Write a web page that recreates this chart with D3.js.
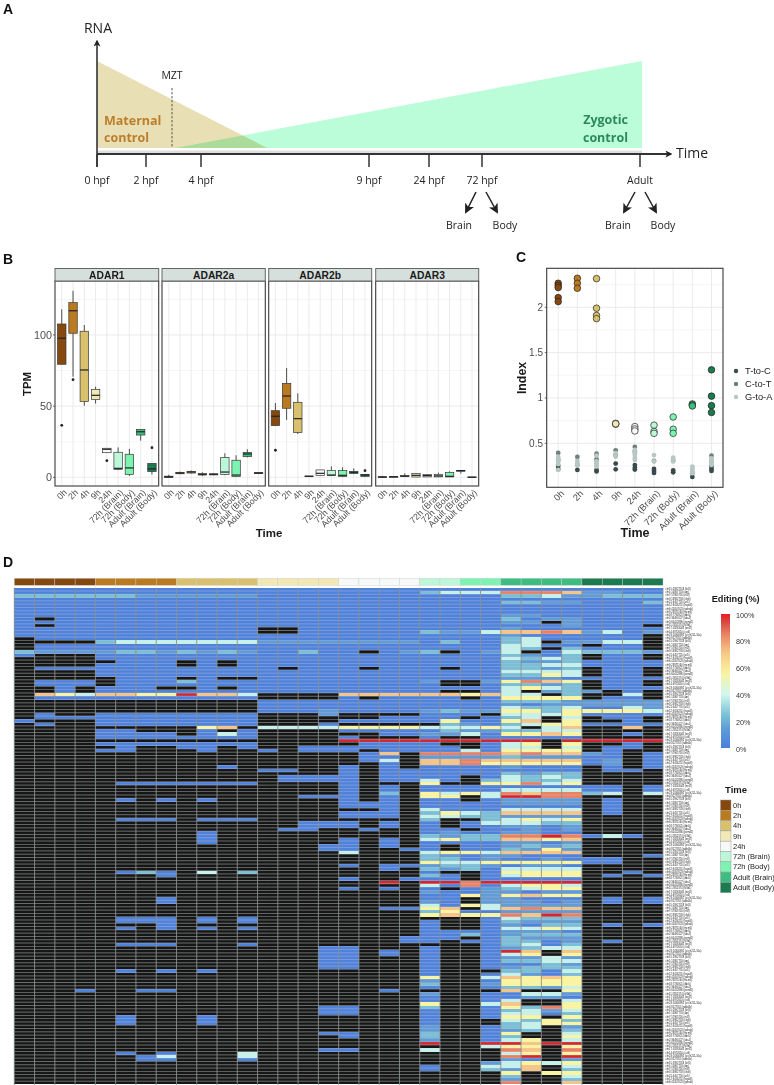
<!DOCTYPE html>
<html><head><meta charset="utf-8">
<script src="https://cdn.jsdelivr.net/npm/d3@7"></script>
<style>html,body{margin:0;padding:0;background:#fff;overflow:hidden}svg{display:block}text{font-family:"Liberation Sans",Arial,sans-serif}</style>
</head><body><svg id="c" width="774" height="1085"></svg>
<script>
// ---------- Panel A data (schematic units) ----------
const stageLabels=["0 hpf","2 hpf","4 hpf","9 hpf","24 hpf","72 hpf","Adult"];
const stagePos=[0,49,104,272,332,385,543];
const maternalCurve=[[0,1],[0,0],[170,0]];
const zygoticCurve=[[78,0],[545,1],[545,0]];
const mztPos=75;
// ---------- Panel B data ----------
const timeLabels=["0h","2h","4h","9h","24h","72h (Brain)","72h (Body)","Adult (Brain)","Adult (Body)"];
const timeColors=["#85490f","#b97a20","#d8c06c","#f2e8b6","#f7f8f8","#bdf7d9","#7df3b2","#3dbd80","#1b7a50"];
const genes=["ADAR1","ADAR2a","ADAR2b","ADAR3"];
// [low, q1, median, q3, high, outliers]
const adar1=[[79.4,79.4,97.7,107.7,118,[36.5]],[70.7,101.2,117,122.7,131,[68.6]],[50.3,53.2,75.4,102.6,107,[]],[51.8,54.6,57.6,61.8,63.7,[]],[17.3,17.3,19.7,20.4,20.4,[11.7]],[5,5.6,6.3,17.6,21,[]],[1,2.1,6.6,16.2,20,[]],[25.8,29.7,32,33.7,33.7,[]],[2,4,5.9,9.8,9.8,[20.8]]];
const adar2a=[[0,0,.3,.8,1.8,[]],[2.2,2.5,3,3.5,4,[]],[2.6,3,3.7,4.2,4.8,[]],[1,1.6,2.1,2.6,3.5,[]],[1.5,1.7,2.1,2.5,2.8,[]],[1.5,1.9,3.7,14,16.9,[]],[.2,.5,1.6,12,15.5,[]],[14,14.5,16.4,17.5,19.7,[]],[2.7,2.7,3,3.3,3.3,[]]];
const adar2b=[[36.3,36.3,42.9,46.8,52.2,[19]],[40.3,48.5,57.1,66,76.8,[]],[30.4,31.4,41.2,52.7,59,[]],[.5,.5,.7,.9,.9,[]],[1,1.4,2.8,5.2,5.2,[]],[1.2,1.2,1.6,4.9,7.7,[]],[.3,.5,1.4,4.7,7,[]],[2.2,2.6,3.5,4.2,6.3,[]],[.5,.7,1.6,2.1,2.1,[4.7]]];
const adar3=[[-.3,0,.2,.4,1,[]],[.1,.1,.3,.5,.5,[]],[.3,.5,.8,1.2,2.8,[]],[.2,.2,1.4,2.8,2.8,[]],[.3,.3,1.2,1.9,1.9,[]],[.2,.3,1,2.1,3.3,[]],[.2,.3,.7,3.5,4.2,[]],[2.6,4.3,4.7,4.9,5,[]],[0,0,.1,.2,.2,[]]];
const tpmTicks=[0,50,100];
// ---------- Panel C data ----------
const mutIndex=[[2.265,2.24,2.217,2.107,2.0625],[2.32,2.265,2.21],[2.316,1.99,1.91,1.875],[.72,.71,.715],[.684,.658,.636],[.70,.63,.61],[.79,.655,.61],[.934,.923,.912],[1.31,1.02,.915,.84]];
const tToC=[[.25,.217],[.206],[.206,.19],[.276,.213],[.26,.23,.21],[.217,.195,.173],[.2,.18],[.129],[.243,.217,.195]];
const cToT=[[.393,.316],[.35,.26],[.386,.324],[.423,.37],[.46,.41],[.305],[.31],[.17],[.364,.3]];
const gToA=[[.353,.33,.298,.27,.206],[.305,.28,.26],[.364,.3,.28,.26,.243],[.39,.353],[.426,.39,.37,.34,.316],[.37,.3],[.342,.316,.3],[.243,.225,.206,.19,.17],[.334,.31,.3,.28,.26]];
const indexTicks=[.5,1,1.5,2];
const mutNames=["T-to-C","C-to-T","G-to-A"];
const mutColors=["#3a4a4a","#6f7f7d","#b7c7c3"];
// ---------- Panel D data: one letter per cell, "." is no data ----------
const levelValues={a:2,b:14,c:24,d:38,e:56,f:72,g:85,h:99};
const columnGroups=[0,0,0,0,1,1,1,1,2,2,2,2,3,3,3,3,4,4,4,4,5,5,6,6,7,7,7,7,8,8,8,8];
const editingRows=[
"aaaa aaaa aaaa aaaa aaaa aaaa aaaa aaaa","aaaa aaaa aaaa aaaa aaaa cddd gggf bbaa","cccc ccbb bbbb aaaa aaaa aaaa ccdb bccc","aaaa aaaa aaaa aaaa aaaa aaaa aaaa aaaa",
"aaaa aaaa aaaa aaaa aaaa aaaa ccbb aaac","aaaa aaaa aaaa aaaa aaaa aaaa aaaa aaaa","aaaa aaaa aaaa aaaa aaaa aaaa aaaa aaaa","aaaa aaaa aaaa aaaa aaaa aaaa aaaa aaaa",
"aaaa aaaa aaaa aaaa aaaa aaaa bbaa aaaa","a.aa aaaa aaaa aaaa aaaa aaaa cabb aaaa","aaaa aaaa aaaa aaaa aaaa aaaa bb.b aaaa","a.aa aaaa aaaa aaaa aaaa aaaa aaab aaa.",
"aaaa aaaa aaaa ..aa aaaa aaaa baaa aaaa","aaaa aaaa aaaa ..aa aaaa cbbd ffgf bdab","aaaa aaaa aaaa aaaa aaaa aaaa baaa aaa.",".aaa aaaa aaaa aaaa aaaa aaaa cdaa aaa.",
".... cddd dddd bbbb bbbb acaa cd.b bdd.",".aaa aaaa aaaa aaaa aaaa aaaa ddaa .aa.",".aaa aaaa aaaa aaaa aaaa aaaa dc.c aaa.","cbbb bccb cbcb aaca a.ab c.ab d.ad cccb",
"a... aaaa aaaa aaaa aaaa aaaa cbac .aa.",".... aaaa aaaa aaaa aaaa aaaa dcdc .aa.",".... .aaa .a.a aaaa aaaa aaaa cbbc aaaa",".... aaaa .a.a aaaa aaaa aaaa ccdd aaaa",
".aaa aaaa aaaa a.aa a.aa a.aa ccbc .aa.",".... aaaa aaaa aaaa aaaa aaaa dddd .aa.",".... aaaa aaaa aaaa aaaa aaaa cced .aa.",".... .aaa .a.. aaaa aaaa aaaa bbba aaaa",
".aaa .aaa caaa aaaa aaaa b..b egfe .aa.",".aaa .aaa aaaa aaaa aaaa a..a ccbc .aa.","..a. aaa. .a.a aaaa aaaa aaaa dedc .aaa","..a. aaaa aaaa aaaa aaaa a..a d.bc b.a.",
".fed ffee hffd .... ffff ffef dd.c ..d.",".aaa aaaa aaaa .... a.aa aa.a eeee .aa.",".... .... .... aaaa aaaa aaaa cccb bbbb",".... .... .... aaaa aaaa aaaa babb bbbb",
".... .... .... aaaa aaaa aaaa dccd aadb",".... .... .... aaab aaaa bcbb eece eeed",".a.. aaaa aaaa ...b .... aaa. ddde aaaa",".aaa aaaa aaaa .... ..aa aa.a cd.d .aa.",
"a... aaaa aaaa .... aaaa aeaa ef.e ..a.",".a.. aaaa aaaa ...a .... .cba cdee aaaa",".... .... .ef. dddd eeee ddde d.df ..f.",".... aa.. .a.a .... aaaa acbb ccdd ....",
".... aaaa .ada .... ..aa bbda eefe ..a.",".... aaaa aaaa .... a... a..a aaaa ....",".... .... .... .... hhhh hhhh hh.h hhhh",".... aaaa aaaa .... .aaa a..a de.e ..a.",
".... .a.. aa.a ..aa aaaa aa.a dd.d .aa.",".... aa.. .a.. a.aa a.aa aada eeee .a..",".... .... .... .... .af. gggg fgff ba.a",".... .... .... .... .aa. bbbb cbbb aa.a",
".... .... .... .... .ad. ffgf ffff ab.a",".... .... .... .... ..a. ffge eeee ab.a",".... .... ..a. .... a.a. aaaa baaa .a.a",".... .... .... aa.. a.aa aaaa aaaa .aa.",
".... .... .... .... a.aa aaaa cbcc ....",".... .... .... .aaa a.aa aa.a dcdc ....",".... .... .... .aaa a.aa da.c dccd ....",".... .aaa aaaa .... a... e..e egde ....",
".... .... .... .... a.a. aaaa aaaa aa.a",".... .... .... .... a.a. aaaa dddd aa.a",".... .... .... .... a.c. eded gfgg cd.d",".... .... .... ..aa a.a. ee.d hhgg ....",
".... .a.a .a.. .... a.a. aa.a bbbb .a..",".... .... .... .... aaa. aaaa bbbb .a..",".... .... .... .... aaa. aaaa aaaa .a..",".... .... .... .... ..a. daaa dddd .a..",
".... .... .... .... aaa. cedc ffff .a..",".... .... .... .... aaa. ddcc bbbb ....",".... .aaa .aaa .... .... c..c dede ....",".... .... .... ..aa a.a. a.ad ddcc ....",
".... .... .... ..aa a.a. a.aa bbab ....",".... .... .... .aa. .a.. aa.a abab ....",".... .... .a.. .... .... abaa bbaa ....",".... .... .a.. .... .... cbcc gghg ada.",
".... .... .a.. .... a.a. decc ffef ....",".... .... .a.. .... a.a. aaaa bbab ....",".... .... .... ...a a.a. a.aa bcbc ....",".... .... .... ...a a..a a.aa cbeb ....",
".... .... .... .... d... deed ffff ....",".... .... .... .... .... cbab baaa ...a",".... .... .... .... .... ccab aaba aa..",".... .... .... .... .... edde eeee aa..",
".... .... .... .... a.aa bccb abba ....",".... .... .... .... ..a. cbca dddd ....",".... .aca .d.c .... .... a..a eeee ..a.",".... ...a .... .... .... ca.a deee .a.a",
".... .... .... .... a..a aa.a aaaa ....",".... .... .... .... ..h. hhgh hhhh ....",".... .... .... .... .... daga deed ....",".... .... .... .... a.a. a.ab cdee ....",
".... .... .... .... .... baab babb ....",".... .... .... .... .... aaeb efee ....",".... ...a .... .... .... aa.b baaa .a.a",".... ...a .... .... .... ba.b bbab .a.a",
".... .... .... .... .... daed bbbb ....",".... .... .... .... ..aa ef.d fgff ....",".... .... .... .... .... ceaa bbbb ....",".... .... .... .... .... efee gfhg ....",
".... .aaa .a.a .... .... ...a dccc ....",".... .aaa .a.a .... .... a..a cbbb ....",".... ...a .... .... .... a..a bacc .a.a",".... .a.a .a.a .... .... a..a dded ....",
".... .... .... .... .... aaaa bbba ....",".... .... .... .... .... aaca bccc ....",".... .... .... .... ...a aa.a cbbb ....",".... .... .... .... ...a a.aa ccab .a..",
".... .aaa ...a .... .... ...a cdac ....",".... .... .... ...a a... a..a bcdd ....",".... .... .... ...a a.a. a..a hf.f ....",".... .... .... ...a a.a. a..a de.e ....",
".... .... .... ...a a... a..a bbdb ....",".... .... .... ...a a... a..a ccdd ....",".... .... .... ...a a... a..a aacb ....",".... .... .... ...a a... a..a bccc ....",
".... .a.a .a.. .... .... a... ccad ....",".... .... .... .... .... a..a dbac ....",".... .... .... .... .... e..d fefe ....",".... .... .... .... .... b..a eeee ....",
".... .... .... .... .... c..b eeee ....",".... .... .... .... .... a..a ccbd ....","...a ..aa .... .... ..a. .... f..e ....",".... .... .... .... .... b..a addb ....",
".... .... .... .... .... a..a abba ....",".... .... .... .... .... a..a d..d ....",".... .... .... .... .... e..d f..e ....",".... .... .... ...a a... c..a ecge ....",
".... .... .... ...a a... a..a cdbd ....",".... .... .... ...a a... a..a ddac ....",".... .a.. .a.. .... .... a..a ee.e ....",".... .a.. .a.. .... .... a... dcec ....",
".... .a.. .a.. .... .... a... cdee ....",".... .... .... .... .... b..a cd.b ....",".... .... .... .... .... b..a bc.c ....",".... .... .... ...a a... c..a e..d ....",
".... .... .... .... a... c..a c..e ....",".... .... .... .... .... b..a de.d ....",".... .... .... .... .... h..h hfhh ....",".... .... .... .... .... ...d ee.e ....",
".... .... .... ...a a... d... gf.g ....",".... .a.a ...d .... .... .... de.e ....",".... ..ad ...d .... .... .... gh.h ....",".... ..aa ...a .... .... .... ba.b ....",
".... .... .... .... .... ...b dede ....",".... .... .... .... .... a..d df.d ....",".... .... .... .... .... a..c bf.c ....",".... .... .... .... .... .... e.ee ....",
".... .... .... .... .... .... c..d ....",".... .... .... .... .... .... b..c ....",".... .... .... .... .... .... g..f ...."
];
// Illegible in the reference: placeholder strings in the same visual format.
const siteLabels=["chr15:29927518 (kif1)","chr1:15867753 (aqr)","chr7:57965716 (rnf2)","chr3:13982733 (cltcb)","chr21:4457755 (arl1)","chr12:9416251 (hspa8)","chr6:41057623 (ywhab)","chr9:23871160 (mcm5)","chr18:7734921 (ddx5)","chr2:36490127 (uba1)","chr5:60412886 (psmd1)","chr11:2851374 (sf3b1)","chr17:18263045 (eef2)","chr14:4972610 (cct4)","chr23:10346892 (si:ch211-16a)","chr4:8127355 (tubb4b)"];
const editingStops=[0,15,25,40,56,72,85,100];
const editingColors=["#4a7fdc","#5f9fd6","#7cc3d6","#d2f7ee","#f8f4a2","#f5c585","#e88262","#d0202c"];
const editingTicks=[0,20,40,60,80,100];

// ---------- Drawing ----------
const svg=d3.select("#c");
const font='"Liberation Sans",Arial,sans-serif', serif='"Open Sans",sans-serif';
function label(x,y,t,o={}){return svg.append("text").attr("x",x).attr("y",y).text(t)
 .attr("font-size",o.size||10).attr("font-weight",o.bold?"bold":"normal").attr("fill",o.fill||"#1a1a1a")
 .attr("text-anchor",o.anchor||"start").attr("dominant-baseline","central").style("font-family",o.font||font)
 .attr("transform",o.rotate?`rotate(${o.rotate} ${x} ${y})`:null);}
[["A",3,9],["B",3,259],["C",516,257],["D",3,562]].forEach(d=>label(d[1],d[2],d[0],{size:14,bold:true,fill:"#111"}));

// Panel A
const ax=d3.scaleLinear().domain([0,543]).range([97,640]);
const ay=d3.scaleLinear().domain([0,1]).range([148,61]);
const area=d3.line().x(d=>ax(d[0])).y(d=>ay(d[1]));
const pA=svg.append("g");
pA.append("path").attr("d",area(zygoticCurve)+"Z").attr("fill","#bbfcd9");
pA.append("path").attr("d",area(maternalCurve)+"Z").attr("fill","#e9dfb5").style("mix-blend-mode","multiply");
pA.append("rect").attr("x",ax(0)).attr("y",150.5).attr("width",545).attr("height",2.5).attr("fill","#dedede");
const defs=svg.append("defs");
defs.append("marker").attr("id","ah").attr("viewBox","0 0 10 10").attr("refX",8).attr("refY",5).attr("markerWidth",7).attr("markerHeight",7).attr("markerUnits","userSpaceOnUse").attr("orient","auto")
 .append("path").attr("d","M0,0L10,5L0,10L2.5,5Z").attr("fill","#222");
defs.append("marker").attr("id","ah2").attr("viewBox","0 0 10 10").attr("refX",8).attr("refY",5).attr("markerWidth",10).attr("markerHeight",10).attr("markerUnits","userSpaceOnUse").attr("orient","auto")
 .append("path").attr("d","M0,0L10,5L0,10L2.5,5Z").attr("fill","#222");
pA.append("line").attr("x1",ax(0)).attr("x2",ax(0)).attr("y1",167).attr("y2",41).attr("stroke","#333").attr("stroke-width",1.6).attr("marker-end","url(#ah)");
pA.append("line").attr("x1",ax(0)).attr("x2",671).attr("y1",154).attr("y2",154).attr("stroke","#333").attr("stroke-width",2).attr("marker-end","url(#ah)");
pA.selectAll(".t").data(stagePos).enter().append("line").attr("x1",d=>ax(d)).attr("x2",d=>ax(d)).attr("y1",154).attr("y2",167).attr("stroke","#333").attr("stroke-width",1.5);
pA.append("line").attr("x1",ax(mztPos)).attr("x2",ax(mztPos)).attr("y1",88).attr("y2",148).attr("stroke","#333").attr("stroke-width",.8).attr("stroke-dasharray","2.4 1.6");
stageLabels.forEach((t,i)=>label(ax(stagePos[i]),180,t,{size:10.5,anchor:"middle",font:serif,fill:"#222"}));
label(98,27,"RNA",{size:14,anchor:"middle",font:serif,fill:"#222"});
label(692,152,"Time",{size:14,anchor:"middle",font:serif,fill:"#222"});
label(172,75,"MZT",{size:10.5,anchor:"middle",font:serif,fill:"#222"});
label(104,120,"Maternal",{size:12.5,bold:true,font:serif,fill:"#bd7e2a"});
label(104,137,"control",{size:12.5,bold:true,font:serif,fill:"#bd7e2a"});
label(628,119,"Zygotic",{size:12.5,bold:true,anchor:"end",font:serif,fill:"#2b8a5c"});
label(628,137,"control",{size:12.5,bold:true,anchor:"end",font:serif,fill:"#2b8a5c"});
[[476,466],[486,497],[635,624],[645,656]].forEach(d=>pA.append("line").attr("x1",d[0]).attr("x2",d[1]).attr("y1",192).attr("y2",212).attr("stroke","#222").attr("stroke-width",1.5).attr("marker-end","url(#ah2)"));
[["Brain",459],["Body",505],["Brain",618],["Body",663]].forEach(d=>label(d[1],225,d[0],{size:10.5,anchor:"middle",font:serif,fill:"#222"}));

// Panel B
const by=d3.scaleLinear().domain([-6.1,137.9]).range([486,281]);
const geneData=[adar1,adar2a,adar2b,adar3];
const panelX=[[55,158.7],[162,265.3],[268.7,371.7],[375.7,478.7]];
const halfTicks=[-25,25,75,125];
genes.forEach((g,gi)=>{
 const [x0,x1]=panelX[gi];
 const bx=d3.scalePoint().domain(timeLabels).range([x0,x1]).padding(.6);
 const p=svg.append("g");
 halfTicks.filter(v=>v>-6).forEach(v=>p.append("line").attr("x1",x0).attr("x2",x1).attr("y1",by(v)).attr("y2",by(v)).attr("stroke","#f0f0f0").attr("stroke-width",.6));
 tpmTicks.forEach(v=>p.append("line").attr("x1",x0).attr("x2",x1).attr("y1",by(v)).attr("y2",by(v)).attr("stroke","#e6e6e6").attr("stroke-width",.8));
 timeLabels.forEach(t=>p.append("line").attr("x1",bx(t)).attr("x2",bx(t)).attr("y1",281).attr("y2",486).attr("stroke","#e6e6e6").attr("stroke-width",.8));
 const bw=bx.step()*.75;
 geneData[gi].forEach((d,i)=>{
  const cx=bx(timeLabels[i]);
  p.append("line").attr("x1",cx).attr("x2",cx).attr("y1",by(d[0])).attr("y2",by(d[4])).attr("stroke","#3a3a3a").attr("stroke-width",.9);
  p.append("rect").attr("x",cx-bw/2).attr("width",bw).attr("y",by(d[3])).attr("height",Math.max(.4,by(d[1])-by(d[3]))).attr("fill",timeColors[i]).attr("stroke","#3a3a3a").attr("stroke-width",.7);
  p.append("line").attr("x1",cx-bw/2).attr("x2",cx+bw/2).attr("y1",by(d[2])).attr("y2",by(d[2])).attr("stroke","#222").attr("stroke-width",1.2);
  d[5].forEach(o=>p.append("circle").attr("cx",cx).attr("cy",by(o)).attr("r",1.4).attr("fill","#222"));
 });
 p.append("rect").attr("x",x0).attr("y",281).attr("width",x1-x0).attr("height",205).attr("fill","none").attr("stroke","#3a3a3a").attr("stroke-width",1.1);
 p.append("rect").attr("x",x0).attr("y",268.5).attr("width",x1-x0).attr("height",12.5).attr("fill","#d5e0dc").attr("stroke","#666").attr("stroke-width",1);
 label((x0+x1)/2,275,g,{size:10.3,bold:true,anchor:"middle"});
 timeLabels.forEach(t=>label(bx(t)+3.5,491,t,{size:8.8,anchor:"end",rotate:-45,fill:"#4d4d4d"}));
});
tpmTicks.forEach(v=>{label(52,by(v),v,{size:10.8,anchor:"end",fill:"#4d4d4d"});
 svg.append("line").attr("x1",53).attr("x2",55).attr("y1",by(v)).attr("y2",by(v)).attr("stroke","#333").attr("stroke-width",.7);});
label(27,384,"TPM",{size:11.3,bold:true,anchor:"middle",rotate:-90});
label(269,533,"Time",{size:11.5,bold:true,anchor:"middle"});

// Panel C
const cx0=546.7,cx1=723,cy0=487.3,cy1=268.3;
const cX=d3.scalePoint().domain(timeLabels).range([cx0,cx1]).padding(.6);
const cY=d3.scaleLinear().domain([.0147,2.43]).range([cy0,cy1]);
const pC=svg.append("g");
[.25,.75,1.25,1.75,2.25].forEach(v=>pC.append("line").attr("x1",cx0).attr("x2",cx1).attr("y1",cY(v)).attr("y2",cY(v)).attr("stroke","#f0f0f0").attr("stroke-width",.6));
indexTicks.forEach(v=>{pC.append("line").attr("x1",cx0).attr("x2",cx1).attr("y1",cY(v)).attr("y2",cY(v)).attr("stroke","#e6e6e6").attr("stroke-width",.8);
 label(543,cY(v),v,{size:10,anchor:"end",fill:"#4d4d4d"});
 svg.append("line").attr("x1",544.7).attr("x2",546.7).attr("y1",cY(v)).attr("y2",cY(v)).attr("stroke","#333").attr("stroke-width",.7);});
timeLabels.forEach(t=>pC.append("line").attr("x1",cX(t)).attr("x2",cX(t)).attr("y1",cy1).attr("y2",cy0).attr("stroke","#e6e6e6").attr("stroke-width",.8));
[[tToC,0],[cToT,1],[gToA,2]].forEach(([arr,k])=>arr.forEach((vals,i)=>vals.forEach(v=>
 pC.append("circle").attr("cx",cX(timeLabels[i])).attr("cy",cY(v)).attr("r",2.4).attr("fill",mutColors[k]))));
mutIndex.forEach((vals,i)=>vals.forEach(v=>pC.append("circle").attr("cx",cX(timeLabels[i])).attr("cy",cY(v)).attr("r",3.3).attr("fill",timeColors[i]).attr("stroke","#222").attr("stroke-width",.7)));
pC.append("rect").attr("x",cx0).attr("y",cy1).attr("width",cx1-cx0).attr("height",cy0-cy1).attr("fill","none").attr("stroke","#3a3a3a").attr("stroke-width",1.1);
timeLabels.forEach(t=>label(cX(t)+4.5,492,t,{size:9.3,anchor:"end",rotate:-45,fill:"#4d4d4d"}));
mutNames.forEach((n,i)=>{pC.append("circle").attr("cx",736).attr("cy",371+13*i).attr("r",2.2).attr("fill",mutColors[i]);label(745,371+13*i,n,{size:9.3});});
label(522,378,"Index",{size:12.3,bold:true,anchor:"middle",rotate:-90});
label(635,533,"Time",{size:12.5,bold:true,anchor:"middle"});

// Panel D
const colIdx=d3.range(32), rowIdx=d3.range(editingRows.length);
const hx=d3.scaleBand().domain(colIdx).range([14.3,663]);
const hy=d3.scaleBand().domain(rowIdx).range([587.7,587.7+3.29*editingRows.length]);
const heatColor=d3.scaleLinear().domain(editingStops).range(editingColors);
const cells=[];
editingRows.forEach((r,ri)=>{r.replace(/ /g,"").padEnd(32,".").split("").forEach((c,ci)=>cells.push({ri,ci,v:levelValues[c]}));});
const pD=svg.append("g");
pD.selectAll("rect.a").data(colIdx).enter().append("rect").attr("x",d=>hx(d)).attr("y",578.3).attr("width",hx.bandwidth()).attr("height",7)
 .attr("fill",d=>timeColors[columnGroups[d]]).attr("stroke","#c8c8c8").attr("stroke-width",.4);
pD.selectAll("rect.c").data(cells).enter().append("rect").attr("x",d=>hx(d.ci)).attr("y",d=>hy(d.ri)).attr("width",hx.bandwidth()).attr("height",hy.bandwidth())
 .attr("fill",d=>d.v===undefined?"#161616":heatColor(d.v)).attr("shape-rendering","crispEdges");
const lines=pD.append("g");
rowIdx.forEach(r=>lines.append("line").attr("x1",14.3).attr("x2",663).attr("y1",hy(r)).attr("y2",hy(r)).attr("stroke","#a4aaaa").attr("stroke-width",.6).style("mix-blend-mode","lighten"));
colIdx.concat([32]).forEach(c=>{const x=c<32?hx(c):663;lines.append("line").attr("x1",x).attr("x2",x).attr("y1",587.7).attr("y2",1085).attr("stroke","#8a9090").attr("stroke-width",.9);});
rowIdx.forEach(r=>label(665.5,hy(r)+1.65,siteLabels[r%siteLabels.length],{size:2.6,fill:"#222"}));

// Legends
const grad=defs.append("linearGradient").attr("id","edit").attr("x1",0).attr("x2",0).attr("y1",1).attr("y2",0);
d3.range(0,101,5).forEach(v=>grad.append("stop").attr("offset",v+"%").attr("stop-color",v>=98?"#f01a20":heatColor(v)));
const lg=d3.scaleLinear().domain([0,100]).range([749,615]);
label(711.7,599,"Editing (%)",{size:9.2,bold:true});
svg.append("rect").attr("x",721).attr("y",lg(100)-1).attr("width",9).attr("height",lg(0)-lg(100)).attr("fill","url(#edit)");
editingTicks.forEach(v=>label(736,lg(v),v+"%",{size:7.2,fill:"#333"}));
label(725,789,"Time",{size:9.5,bold:true});
const sw=d3.scaleBand().domain(timeLabels).range([800,892.7]);
timeLabels.forEach((t,i)=>{svg.append("rect").attr("x",720.5).attr("y",sw(t)).attr("width",10.5).attr("height",sw.bandwidth()).attr("fill",timeColors[i]).attr("stroke","#9aa0a0").attr("stroke-width",.5);
 label(733,sw(t)+sw.bandwidth()/2,t,{size:7.5,fill:"#222"});});
</script></body></html>
